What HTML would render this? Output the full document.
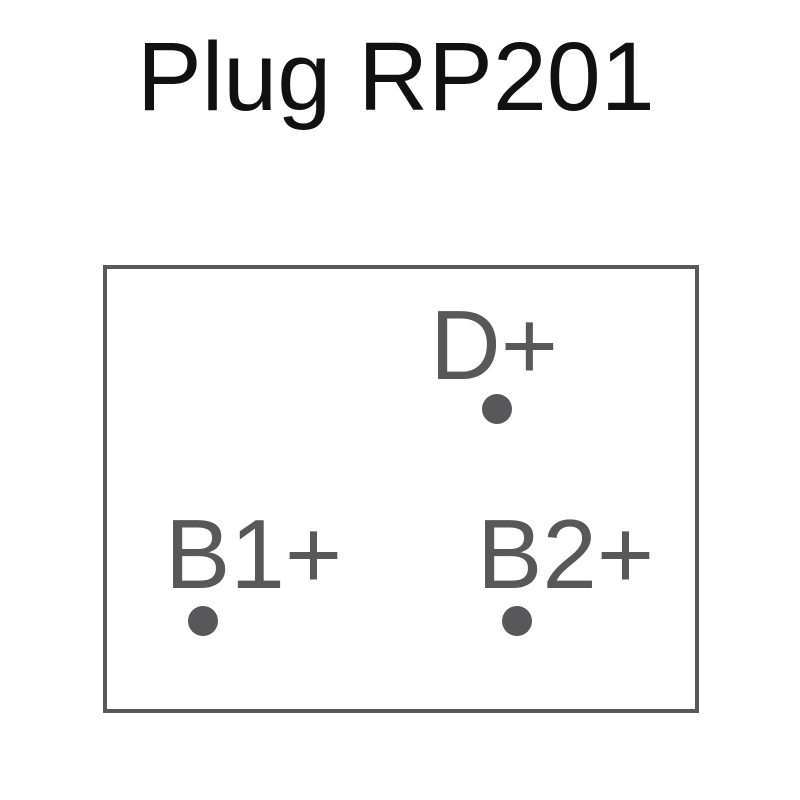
<!DOCTYPE html>
<html><head><style>
html,body{margin:0;padding:0;background:#fff;}
body{width:800px;height:800px;position:relative;overflow:hidden;font-family:"Liberation Sans",sans-serif;}
.t{position:absolute;white-space:nowrap;line-height:1;}
</style></head><body>
<div class="t" style="left:137px;top:28px;font-size:97px;color:#111;">Plug RP201</div>
<div style="position:absolute;left:103px;top:265px;width:588px;height:440px;border:4px solid #58585a;"></div>
<div class="t" style="left:430px;top:296px;font-size:98px;color:#58585a;">D+</div>
<div class="t" style="left:165px;top:505px;font-size:98px;color:#58585a;">B1+</div>
<div class="t" style="left:477px;top:505px;font-size:98px;color:#58585a;">B2+</div>
<div style="position:absolute;left:482px;top:394px;width:30px;height:30px;border-radius:50%;background:#58585a;"></div>
<div style="position:absolute;left:188px;top:606px;width:30px;height:30px;border-radius:50%;background:#58585a;"></div>
<div style="position:absolute;left:502px;top:606px;width:30px;height:30px;border-radius:50%;background:#58585a;"></div>
</body></html>
